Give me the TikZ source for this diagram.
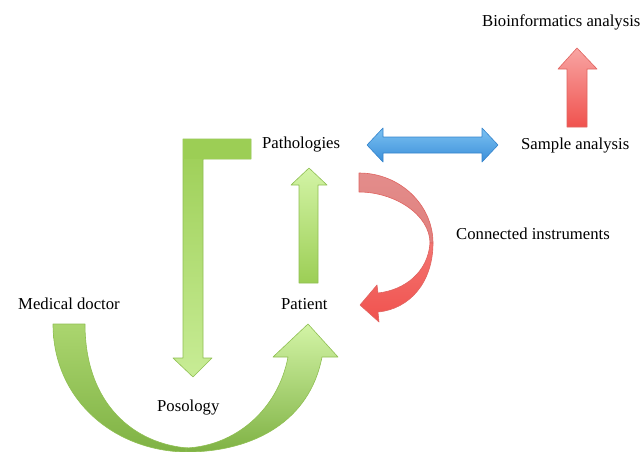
\documentclass[tikz,border=0pt]{standalone}
\usepackage{fontspec}
\setmainfont{Liberation Serif}
\usepackage{tikz}
\usetikzlibrary{positioning}
\definecolor{gdark}{HTML}{7FB244}
\definecolor{gmid}{HTML}{9CCE55}
\definecolor{glight}{HTML}{D3F4A6}
\definecolor{gline}{HTML}{8FBF52}
\definecolor{rdark}{HTML}{F0524E}
\definecolor{rlight}{HTML}{F8A5A3}
\definecolor{rback}{HTML}{E0807E}
\definecolor{rline}{HTML}{E06460}
\definecolor{bdark}{HTML}{3B8FD9}
\definecolor{blight}{HTML}{7CC2F2}
\definecolor{bline}{HTML}{3584CC}
\tikzset{txt/.style={anchor=base west,inner sep=0pt,font=\fontsize{16.7}{20}\selectfont}}
\tikzset{garrow/.style={draw=gline,line width=0.6pt,line join=round}}
\tikzset{rarrow/.style={draw=rline,line width=0.6pt,line join=round}}
\tikzset{barrow/.style={draw=bline,line width=0.6pt,line join=round,top color=blight,bottom color=bdark}}

\begin{document}
\begin{tikzpicture}[x=1pt,y=-1pt]
    \useasboundingbox (0,0) rectangle (642,452);

    \node[txt] (bio) at (482,27) {Bioinformatics analysis};
    \node[txt] (patho) at (262,148) {Pathologies};
    \node[txt] (sample) at (521,149) {Sample analysis};
    \node[txt] (instr) at (456,239) {Connected instruments};
    \node[txt] (doctor) at (18,309) {Medical doctor};
    \node[txt] (patient) at (281,309) {Patient};
    \node[txt] (poso) at (157,411) {Posology};

    % sample analysis -> bioinformatics
    \path[rarrow,top color=rlight,bottom color=rdark]
        (567,127) -- (567,69) -- (558,69) -- (577,48) -- (597,69)
        -- (587,69) -- (587,127) -- cycle;

    % pathologies <-> sample analysis
    \path[barrow] (367,145) -- (383,128) -- (383,137) -- (482,137)
        -- (482,128) -- (498,145) -- (482,162) -- (482,153)
        -- (383,153) -- (383,162) -- cycle;

    % patient -> pathologies
    \path[garrow,top color=glight,bottom color=gmid]
        (299,283) -- (299,185) -- (291,185) -- (309,168) -- (327,185)
        -- (318,185) -- (318,283) -- cycle;

    % pathologies -> posology
    \path[garrow,top color=gmid,bottom color=glight!80!gmid]
        (251,139) -- (183,139) -- (183,358) -- (173,358) -- (193,377)
        -- (212,358) -- (203,358) -- (203,159) -- (251,159) -- cycle;
    \path[fill=gmid] (183.3,139.3) rectangle (250.7,158.7);

    % connected instruments
    \path[rarrow,top color=rback!90!white,bottom color=rback]
        (359,173) .. controls (400,173) and (433,205) .. (433,243)
        -- (430,243) .. controls (430,215) and (395,192) .. (359,192) -- cycle;
    \path[rarrow,top color=rdark!80!white,bottom color=rdark]
        (430,243) .. controls (428,272) and (405,290) .. (378,293)
        -- (377,285) -- (360,305) -- (379,322) -- (378,312)
        .. controls (410,309) and (433,282) .. (433,243) -- cycle;

    % medical doctor -> patient
    \path[garrow,top color=gmid!85!white,bottom color=gdark]
        (53,324) .. controls (53,400) and (115,452) .. (188,452)
        -- (188,448) .. controls (135,444) and (85,405) .. (85,324) -- cycle;
    \path[garrow,top color=glight,bottom color=gdark]
        (186,448) .. controls (235,446) and (278,410) .. (288,357)
        -- (273,357) -- (308,324) -- (338,357) -- (322,357)
        .. controls (310,420) and (255,452) .. (186,452) -- cycle;
\end{tikzpicture}
\end{document}
